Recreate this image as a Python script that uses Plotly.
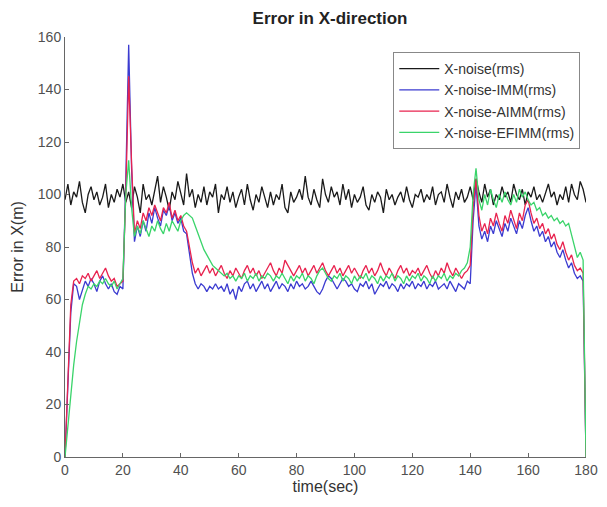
import plotly.graph_objects as go

time_sec = list(range(181))

x_noise = [98,104,96,101,99,105,97,93,100,103,
           98,101,96,99,104,95,100,97,102,99,
           104,97,101,95,103,99,93,104,98,100,
           96,102,107,97,103,99,94,101,98,105,
           100,96,108,99,102,95,100,97,103,96,
           101,99,104,93,100,98,103,97,101,95,
           99,102,96,104,98,94,100,97,103,99,
           95,101,96,100,98,104,95,93,101,97,
           99,102,98,107,99,96,102,98,95,106,
           100,97,103,99,101,96,104,98,102,95,
           100,97,99,103,96,94,100,97,101,99,
           93,102,98,100,96,99,101,97,103,98,
           95,100,99,102,97,100,98,103,96,100,
           101,97,104,99,95,101,98,102,97,99,
           103,98,106,101,97,104,99,102,96,100,
           98,103,99,101,97,104,100,98,102,96,
           101,99,103,98,100,97,101,104,99,101,
           96,100,98,103,97,104,100,98,105,102,
           97]

x_imm = [0,25,55,66,65,60,64,67,65,68,
         66,63,67,69,66,64,66,63,62,65,
         64,105,157,110,82,88,84,90,86,93,
         89,95,91,88,94,92,96,90,93,89,
         91,86,85,78,70,66,64,66,65,63,
         65,64,66,64,65,63,66,62,64,60,
         65,63,66,67,64,66,63,65,67,64,
         66,63,65,67,64,66,65,63,66,64,
         67,65,66,64,65,67,65,63,62,64,
         67,69,68,66,64,66,68,67,65,66,
         64,63,66,65,67,64,66,62,64,66,
         65,67,64,66,65,63,66,64,66,65,
         67,64,66,65,67,64,66,65,67,64,
         65,66,64,67,65,63,66,65,64,67,
         66,90,104,88,83,86,82,88,85,90,
         87,84,89,86,91,88,85,90,87,92,
         95,90,86,88,84,86,82,84,80,82,
         78,76,79,75,72,74,70,68,69,67,
         0]

x_aimm = [0,30,58,67,68,66,69,68,70,67,
          69,71,68,70,72,69,67,68,65,66,
          67,100,145,112,85,90,87,93,90,95,
          92,96,93,90,95,93,97,91,94,90,
          92,88,86,80,74,70,72,69,71,73,
          70,72,69,71,73,70,68,71,69,72,
          70,68,71,73,70,72,69,71,68,70,
          72,74,71,69,72,70,75,73,71,69,
          71,73,70,72,69,71,73,70,72,74,
          71,69,71,73,70,72,69,71,73,70,
          72,70,68,71,73,70,72,69,71,74,
          71,69,72,70,68,71,73,70,72,69,
          71,70,72,69,71,73,70,68,71,69,
          72,70,74,71,69,72,70,68,70,71,
          73,95,106,92,86,89,85,91,88,93,
          89,86,92,89,94,90,87,93,90,96,
          98,93,89,91,87,89,85,87,83,85,
          81,79,82,78,75,77,73,71,72,70,
          0]

x_efimm = [0,12,25,35,44,52,58,62,65,64,
           66,65,67,66,68,66,65,67,64,66,
           68,100,113,95,84,88,85,90,87,84,
           88,86,90,87,85,89,86,90,88,86,
           90,92,93,92,91,88,85,82,79,77,
           75,73,72,71,70,69,70,68,69,67,
           69,68,70,67,69,68,70,67,69,68,
           70,69,67,69,68,70,68,66,69,67,
           69,68,70,67,69,68,66,69,71,72,
           70,68,67,69,68,70,67,69,68,66,
           69,67,69,68,70,67,69,68,66,69,
           67,69,68,70,67,69,68,66,69,67,
           69,68,70,67,69,68,66,69,67,69,
           68,70,67,69,68,70,69,71,72,74,
           80,100,110,98,94,100,96,102,98,95,
           100,97,101,98,96,100,97,102,99,101,
           98,96,97,94,95,92,93,91,92,90,
           91,89,90,88,89,85,80,76,78,75,
           0]

series_names = ["X-noise(rms)", "X-noise-IMM(rms)", "X-noise-AIMM(rms)", "X-noise-EFIMM(rms)"]
series_values = [x_noise, x_imm, x_aimm, x_efimm]
series_colors = ["#1a1a1a", "#3b3bd0", "#e8234f", "#3ad46a"]

x_ticks = [0, 20, 40, 60, 80, 100, 120, 140, 160, 180]
y_ticks = [0, 20, 40, 60, 80, 100, 120, 140, 160]

fig = go.Figure()
for name, vals, col in zip(series_names, series_values, series_colors):
    fig.add_trace(go.Scatter(x=time_sec[:len(vals)], y=vals, mode="lines", name=name,
                             line=dict(color=col, width=1.3)))

font_family = "Liberation Sans, Arial, sans-serif"
fig.update_layout(
    width=592, height=492,
    margin=dict(l=57, r=2, t=29, b=43),
    paper_bgcolor="white", plot_bgcolor="white",
    font=dict(family=font_family, size=14, color="#505050"),
    title=dict(text="<b>Error in X-direction</b>", x=0.544, xanchor="center",
               y=0.98, yanchor="middle", font=dict(size=17, color="#222")),
    showlegend=True,
    legend=dict(x=0.989, y=0.964, xanchor="right", yanchor="top",
                bordercolor="#888", borderwidth=1, bgcolor="white",
                font=dict(size=14, color="#333"), tracegroupgap=0,
                itemwidth=40),
)
fig.update_xaxes(range=[0, 180], tickvals=x_ticks, ticks="inside", ticklen=4,
                 ticklabeloverflow="allow",
                 showline=True, linecolor="#666", tickcolor="#666", showgrid=False,
                 zeroline=False, title=dict(text="time(sec)", font=dict(size=16, color="#333"), standoff=4))
fig.update_yaxes(range=[0, 160], tickvals=y_ticks, ticks="inside", ticklen=4,
                 showline=True, linecolor="#666", tickcolor="#666", showgrid=False,
                 zeroline=False, title=dict(text="Error in X(m)", font=dict(size=16, color="#333"), standoff=10))

fig.write_html("out.html")
